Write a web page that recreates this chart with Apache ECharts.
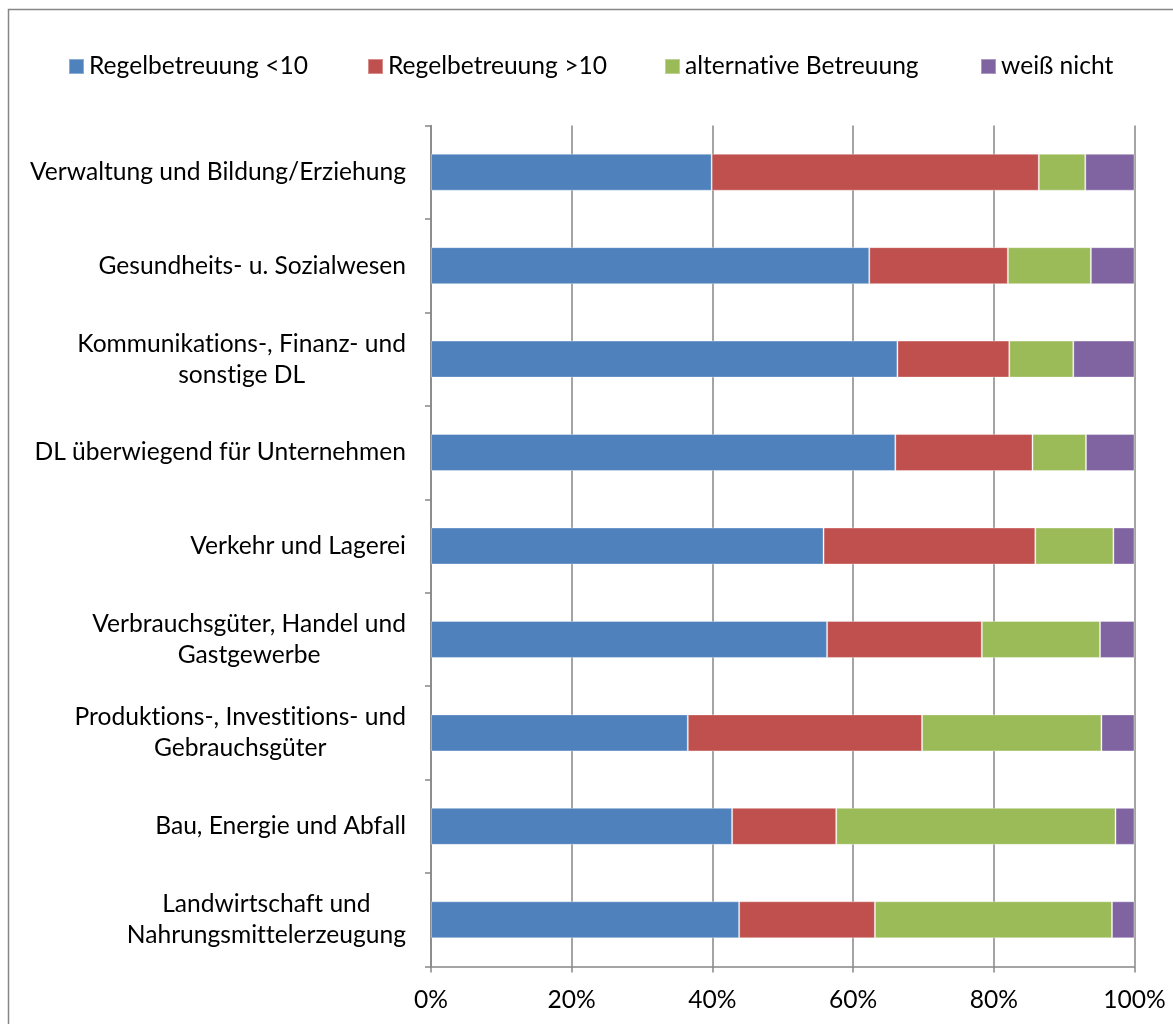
<!DOCTYPE html>
<html>
<head>
<meta charset="utf-8">
<script src="https://cdn.jsdelivr.net/npm/echarts@6/dist/echarts.min.js"></script>
<style>
  html, body { margin: 0; padding: 0; background: #fff; }
  #chart { width: 1173px; height: 1024px; }
</style>
</head>
<body>
<div id="chart"></div>
<script>
// Branches, top to bottom
const categories = [
  'Verwaltung und Bildung/Erziehung',
  'Gesundheits- u. Sozialwesen',
  'Kommunikations-, Finanz- und\nsonstige DL',
  'DL überwiegend für Unternehmen',
  'Verkehr und Lagerei',
  'Verbrauchsgüter, Handel und\nGastgewerbe',
  'Produktions-, Investitions- und\nGebrauchsgüter',
  'Bau, Energie und Abfall',
  'Landwirtschaft und\nNahrungsmittelerzeugung'
];

// Shares in percent per branch
const regelUnter10 = [39.9, 62.3, 66.3, 66.0, 55.8, 56.3, 36.5, 42.8, 43.8];
const regelUeber10 = [46.5, 19.7, 15.9, 19.5, 30.1, 22.0, 33.3, 14.8, 19.3];
const alternativ   = [ 6.6, 11.8,  9.1,  7.6, 11.1, 16.8, 25.5, 39.7, 33.7];
const weissNicht   = [ 7.0,  6.2,  8.7,  6.9,  3.0,  4.9,  4.7,  2.7,  3.2];

const seriesNames = ['Regelbetreuung <10', 'Regelbetreuung >10', 'alternative Betreuung', 'weiß nicht'];
const seriesData = [regelUnter10, regelUeber10, alternativ, weissNicht];
const colors = ['#4F81BD', '#C0504D', '#9BBB59', '#8064A2'];

const FONT = 'Lato';
const FONT_SIZE = 24.6;
const axisGrey = '#868686';

// plain glyphs, no discretionary "ti" ligature
const origFillText = CanvasRenderingContext2D.prototype.fillText;
CanvasRenderingContext2D.prototype.fillText = function () {
  if ('textRendering' in this) this.textRendering = 'optimizeSpeed';
  return origFillText.apply(this, arguments);
};

// measure label blocks so multi-line labels are centred line by line
// while the block itself stays right-aligned against the axis
const measureCtx = document.createElement('canvas').getContext('2d');
measureCtx.font = FONT_SIZE + 'px ' + FONT;
if ('textRendering' in measureCtx) measureCtx.textRendering = 'optimizeSpeed';
const categoryItems = categories.map(c => {
  const w = Math.max(...c.split('\n').map(l => measureCtx.measureText(l).width));
  return { value: c, textStyle: { align: 'center', padding: [0, w, 0, 0] } };
});

// legend item positions (square left edge)
const legendLeft = [68, 367, 664, 980];

const chart = echarts.init(document.getElementById('chart'), null, { renderer: 'canvas' });

chart.setOption({
  backgroundColor: '#fff',
  animation: false,
  textStyle: { fontFamily: FONT, color: '#000' },
  graphic: [{
    type: 'rect',
    shape: { x: 8.5, y: 9.5, width: 1200, height: 1100 },
    style: { fill: 'none', stroke: axisGrey, lineWidth: 1.5 },
    silent: true
  }],
  legend: seriesNames.map((name, i) => ({
    data: [name],
    left: legendLeft[i],
    top: 54,
    padding: 0,
    icon: 'rect',
    itemWidth: 15,
    itemHeight: 15,
    textStyle: { fontFamily: FONT, fontSize: FONT_SIZE, color: '#000' }
  })),
  grid: { left: 431, right: 38.5, top: 125.5, bottom: 57.5, containLabel: false },
  xAxis: {
    type: 'value',
    min: 0,
    max: 100,
    interval: 20,
    axisLine: { show: true, lineStyle: { color: axisGrey, width: 1.5 } },
    axisTick: { show: true, length: 6, lineStyle: { color: axisGrey, width: 1.5 } },
    splitLine: { show: true, lineStyle: { color: axisGrey, width: 1.5 } },
    axisLabel: { formatter: '{value}%', fontFamily: FONT, fontSize: FONT_SIZE, color: '#000', margin: 21 }
  },
  yAxis: {
    type: 'category',
    data: categoryItems,
    inverse: true,
    axisLine: { show: true, lineStyle: { color: axisGrey, width: 1.5 } },
    axisTick: { show: true, length: 6, lineStyle: { color: axisGrey, width: 1.5 } },
    splitLine: { show: false },
    axisLabel: {
      interval: 0,
      margin: 25,
      fontFamily: FONT,
      fontSize: FONT_SIZE,
      color: '#000',
      lineHeight: 31
    }
  },
  series: seriesNames.map((name, i) => ({
    name: name,
    type: 'bar',
    stack: 'total',
    barWidth: 37,
    data: seriesData[i],
    itemStyle: { color: colors[i], borderColor: 'rgba(255,255,255,0.35)', borderWidth: 1 }
  }))
});
</script>
</body>
</html>
